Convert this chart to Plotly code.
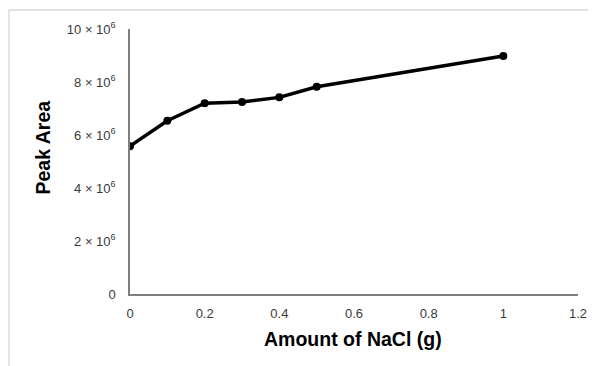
import plotly.graph_objects as go

nacl_g = [0, 0.1, 0.2, 0.3, 0.4, 0.5, 1.0]
peak_area = [5.58e6, 6.54e6, 7.2e6, 7.25e6, 7.42e6, 7.82e6, 8.98e6]

y_tickvals = [0, 2e6, 4e6, 6e6, 8e6, 10e6]
y_ticktext = ["0", "2 × 10<sup>6</sup>", "4 × 10<sup>6</sup>", "6 × 10<sup>6</sup>",
              "8 × 10<sup>6</sup>", "10 × 10<sup>6</sup>"]
x_tickvals = [0, 0.2, 0.4, 0.6, 0.8, 1.0, 1.2]
x_ticktext = ["0", "0.2", "0.4", "0.6", "0.8", "1", "1.2"]

x_title = "Amount of NaCl (g)"
y_title = "Peak Area"

fig = go.Figure()
fig.add_trace(go.Scatter(
    x=nacl_g, y=peak_area, mode="lines+markers",
    line=dict(color="black", width=3.5),
    marker=dict(color="black", size=8),
    showlegend=False,
))

tick_font = dict(family="Liberation Sans, Arial, sans-serif", size=13, color="#3a3a3a")
title_font = dict(family="Liberation Sans, Arial, sans-serif", size=19.5, color="black")

W, H = 588, 358
L, T, R = 122, 21, 18
PH = 265
B = H - T - PH
PW = W - L - R

fig.update_layout(
    width=W, height=H,
    margin=dict(l=L, r=R, t=T, b=B),
    paper_bgcolor="white", plot_bgcolor="white",
    xaxis=dict(
        range=[0, 1.2], tickvals=x_tickvals, ticktext=x_ticktext,
        showgrid=False, zeroline=False, showline=True, linecolor="#7f7f7f", linewidth=1.5,
        ticks="outside", ticklen=7, tickcolor="rgba(0,0,0,0)",
        tickfont=tick_font, automargin=False,
    ),
    yaxis=dict(
        range=[0, 10e6], tickvals=y_tickvals, ticktext=y_ticktext,
        showgrid=False, zeroline=False, showline=True, linecolor="#7f7f7f", linewidth=1.5,
        ticks="outside", ticklen=10, tickcolor="rgba(0,0,0,0)",
        tickfont=tick_font, automargin=False,
    ),
)

# axis titles as annotations (page coords: x title centre (353,339), y title centre (42,147))
fig.add_annotation(text="<b>" + x_title + "</b>", xref="paper", yref="paper",
                   x=(345 - L) / PW, y=1 - (331 - T) / PH, showarrow=False,
                   xanchor="center", yanchor="middle", font=title_font)
fig.add_annotation(text="<b>" + y_title + "</b>", xref="paper", yref="paper",
                   x=(34 - L) / PW, y=1 - (139.5 - T) / PH, showarrow=False,
                   xanchor="center", yanchor="middle", textangle=-90, font=title_font)

# outer light frame (top and left edges)
top_y = 1 + (T - 2) / PH
left_x = (1 - L) / PW
fig.add_shape(type="line", xref="paper", yref="paper",
              x0=left_x, x1=1 + (R + 10) / PW, y0=top_y, y1=top_y,
              line=dict(color="#d9d9d9", width=1.5))
fig.add_shape(type="line", xref="paper", yref="paper",
              x0=left_x, x1=left_x, y0=top_y, y1=-(B + 10) / PH,
              line=dict(color="#d9d9d9", width=1.5))

fig.write_html("out.html")
